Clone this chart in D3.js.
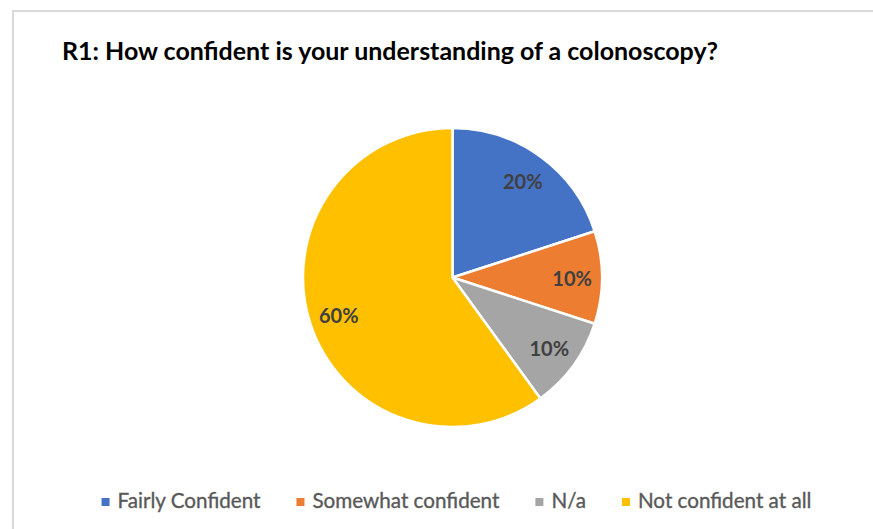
<!DOCTYPE html>
<html>
<head>
<meta charset="utf-8">
<script src="https://cdn.jsdelivr.net/npm/d3@7"></script>
<style>
  html, body { margin: 0; padding: 0; background: #fff; }
  svg { display: block; }
</style>
</head>
<body>
<svg id="chart" width="873" height="529"></svg>
<script>
// Survey answers and their shares of respondents (%)
const categories = ["Fairly Confident", "Somewhat confident", "N/a", "Not confident at all"];
const shares = [20, 10, 10, 60];
const colors = ["#4472C4", "#ED7D31", "#A5A5A5", "#FFC000"];
const titleText = "R1: How confident is your understanding of a colonoscopy?";

const svg = d3.select("#chart");

// chart area frame (extends past the right and bottom edges)
svg.append("rect")
  .attr("x", 13).attr("y", 11)
  .attr("width", 900).attr("height", 600)
  .attr("fill", "#fff")
  .attr("stroke", "#d9d9d9")
  .attr("stroke-width", 2);

// helper: scale a text element's font so it spans the desired width
function fitWidth(sel, target) {
  const node = sel.node();
  const fs = parseFloat(sel.attr("font-size"));
  const w = node.getComputedTextLength();
  sel.attr("font-size", (fs * target / w).toFixed(2));
}

// title
const title = svg.append("text")
  .attr("x", 62).attr("y", 60)
  .attr("font-family", "Lato, 'Open Sans', sans-serif")
  .attr("font-weight", 700)
  .attr("font-size", 26)
  .attr("fill", "#000")
  .text(titleText);
fitWidth(title, 656);

// pie
const cx = 452.5, cy = 277.5, R = 149.5;
const pie = d3.pie().value(d => d).sort(null);
const arcs = pie(shares);
const arc = d3.arc().innerRadius(0).outerRadius(R);
const labelArc = d3.arc().innerRadius(R * 0.8).outerRadius(R * 0.8);

const g = svg.append("g").attr("transform", `translate(${cx},${cy})`);
g.selectAll("path.slice")
  .data(arcs)
  .join("path")
  .attr("class", "slice")
  .attr("d", arc)
  .attr("fill", (d, i) => colors[i])
  .attr("stroke", "#fff")
  .attr("stroke-width", 2.5)
  .attr("stroke-linejoin", "round");

// percentage labels inside the slices
g.selectAll("text.lbl")
  .data(arcs)
  .join("text")
  .attr("class", "lbl")
  .attr("transform", d => `translate(${labelArc.centroid(d)})`)
  .attr("text-anchor", "middle")
  .attr("dy", "0.42em")
  .attr("font-family", "Lato, 'Open Sans', sans-serif")
  .attr("font-weight", 700)
  .attr("font-size", 20)
  .attr("fill", "#404040")
  .text(d => d.data + "%");

// legend
const legendY = 508;           // text baseline
const markerSize = 8, markerGap = 8, itemGap = 36;
const legend = svg.append("g");
const items = legend.selectAll("g.item")
  .data(categories)
  .join("g")
  .attr("class", "item");
const ltexts = items.append("text")
  .attr("y", legendY)
  .attr("font-family", "Lato, 'Open Sans', sans-serif")
  .attr("font-size", 21)
  .attr("fill", "#595959")
  .attr("stroke", "#595959")
  .attr("stroke-width", 0.35)
  .text(d => d);
// size font so "Fairly Confident" spans ~143px, apply to all
const first = ltexts.filter((d, i) => i === 0);
fitWidth(first, 143);
ltexts.attr("font-size", first.attr("font-size"));

const widths = [];
ltexts.each(function () { widths.push(this.getComputedTextLength()); });
const total = d3.sum(widths) + categories.length * (markerSize + markerGap) + (categories.length - 1) * itemGap;
let xPos = 456.5 - total / 2;
items.each(function (d, i) {
  const it = d3.select(this);
  it.insert("rect", "text")
    .attr("x", xPos).attr("y", legendY - 10)
    .attr("width", markerSize).attr("height", markerSize)
    .attr("fill", colors[i]);
  it.select("text").attr("x", xPos + markerSize + markerGap);
  xPos += markerSize + markerGap + widths[i] + itemGap;
});
</script>
</body>
</html>
